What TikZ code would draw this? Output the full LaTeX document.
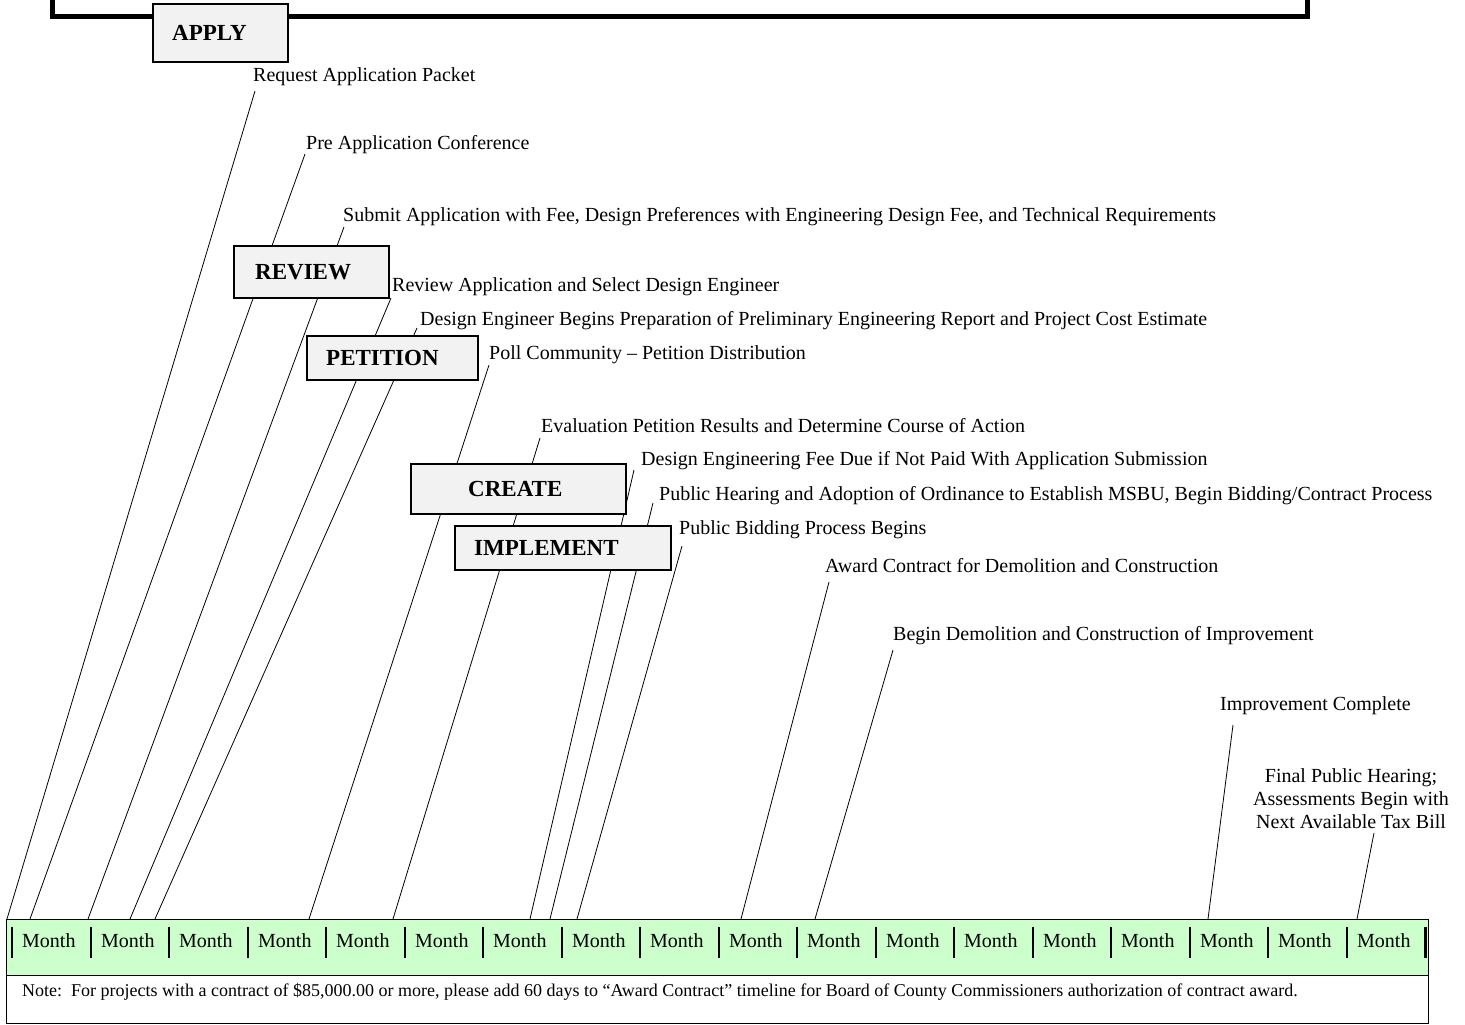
\documentclass[tikz,border=0pt]{standalone}
\usepackage{fontspec}
\setmainfont{Liberation Serif}
\definecolor{barGreen}{HTML}{CCFFCC}
\definecolor{boxGray}{HTML}{F2F2F2}
\begin{document}
\begin{tikzpicture}[x=1pt,y=-1pt,
  phasebox/.style={draw=black, line width=2pt, fill=boxGray, anchor=north west, inner sep=0pt},
  phasetext/.style={anchor=west, inner sep=0pt, font=\fontsize{23}{26}\selectfont\bfseries},
  steplabel/.style={anchor=west, inner sep=0pt, font=\fontsize{20}{23}\selectfont},
  leader/.style={line width=0.8pt, black},
  monthsep/.style={line width=2pt, black},
  monthtext/.style={anchor=west, inner sep=0pt, font=\fontsize{20}{23}\selectfont}
]
\useasboundingbox (0,0) rectangle (1465,1025);

% top frame
\draw[line width=5pt] (52,-5) -- (52,17) -- (1307,17) -- (1307,-5);

% bar and note box
\node[draw=black, line width=1.2pt, fill=barGreen, anchor=north west, inner sep=0pt,
      minimum width=1422pt, minimum height=56pt] (bar) at (6,919) {};
\node[draw=black, line width=1.2pt, fill=white, anchor=north west, inner sep=0pt,
      minimum width=1422pt, minimum height=48pt] (notebox) at (6,975) {};
\node[anchor=west, inner sep=0pt, font=\fontsize{18}{21}\selectfont] (note) at (22,992)
  {Note:\ \ For projects with a contract of \$85,000.00 or more, please add 60 days to “Award Contract” timeline for Board of County Commissioners authorization of contract award.};

% months
\foreach \i in {0,...,17} {
  \pgfmathsetmacro{\xx}{round(12+78.5*\i)}
  \draw[monthsep] (\xx,927) -- (\xx,958);
  \node[monthtext] (m\i) at (\xx+10,941) {Month};
}
\draw[line width=3pt] (1425,927) -- (1425,958);

% labels
\node[steplabel] (l1) at (253,77) {Request Application Packet};
\node[steplabel] (l2) at (306,145) {Pre Application Conference};
\node[steplabel] (l3) at (343,217) {Submit Application with Fee, Design Preferences with Engineering Design Fee, and Technical Requirements};
\node[steplabel] (l4) at (392,287) {Review Application and Select Design Engineer};
\node[steplabel] (l5) at (420,321) {Design Engineer Begins Preparation of Preliminary Engineering Report and Project Cost Estimate};
\node[steplabel] (l6) at (489,355) {Poll Community – Petition Distribution};
\node[steplabel] (l7) at (541,426) {Evaluation Petition Results and Determine Course of Action};
\node[steplabel] (l8) at (641,461) {Design Engineering Fee Due if Not Paid With Application Submission};
\node[steplabel] (l9) at (659,496) {Public Hearing and Adoption of Ordinance to Establish MSBU, Begin Bidding/Contract Process};
\node[steplabel] (l10) at (679,530) {Public Bidding Process Begins};
\node[steplabel] (l11) at (825,566) {Award Contract for Demolition and Construction};
\node[steplabel] (l12) at (893,636) {Begin Demolition and Construction of Improvement};
\node[steplabel] (l13) at (1220,706) {Improvement Complete};
\node[steplabel, anchor=center, align=center] (l14) at (1351,799) {Final Public Hearing;\\Assessments Begin with\\Next Available Tax Bill};

% leader endpoints
\coordinate (t1) at (255,91);   \coordinate (b1) at (7,919);
\coordinate (t2) at (305,154);  \coordinate (b2) at (30,919);
\coordinate (t3) at (344,227);  \coordinate (b3) at (88,919);
\coordinate (t4) at (391,298);  \coordinate (b4) at (130,919);
\coordinate (t5) at (417,328);  \coordinate (b5) at (155,919);
\coordinate (t6) at (489,365);  \coordinate (b6) at (309,919);
\coordinate (t7) at (540,438);  \coordinate (b7) at (393,919);
\coordinate (t8) at (634,470);  \coordinate (b8) at (530,919);
\coordinate (t9) at (653,503);  \coordinate (b9) at (550,919);
\coordinate (t10) at (682,546); \coordinate (b10) at (577,919);
\coordinate (t11) at (829,582); \coordinate (b11) at (741,919);
\coordinate (t12) at (893,650); \coordinate (b12) at (815,919);
\coordinate (t13) at (1233,725); \coordinate (b13) at (1208,919);
\coordinate (t14) at (1374,833); \coordinate (b14) at (1357,919);
\foreach \k in {1,...,14} { \draw[leader] (t\k) -- (b\k); }

% phase boxes
\node[phasebox, minimum width=135pt, minimum height=58pt] (apply) at (152,3) {};
\node[phasetext, xshift=20pt] (applyT) at (apply.west) {APPLY};
\node[phasebox, minimum width=155pt, minimum height=52pt] (review) at (233,245) {};
\node[phasetext, xshift=22pt] (reviewT) at (review.west) {REVIEW};
\node[phasebox, minimum width=171pt, minimum height=44pt] (petition) at (306,335) {};
\node[phasetext, xshift=20pt] (petitionT) at (petition.west) {PETITION};
\node[phasebox, minimum width=215pt, minimum height=50pt] (create) at (410,463) {};
\node[phasetext, xshift=58pt] (createT) at (create.west) {CREATE};
\node[phasebox, minimum width=216pt, minimum height=44pt] (implement) at (454,525) {};
\node[phasetext, xshift=20pt] (implementT) at (implement.west) {IMPLEMENT};
\end{tikzpicture}
\end{document}
